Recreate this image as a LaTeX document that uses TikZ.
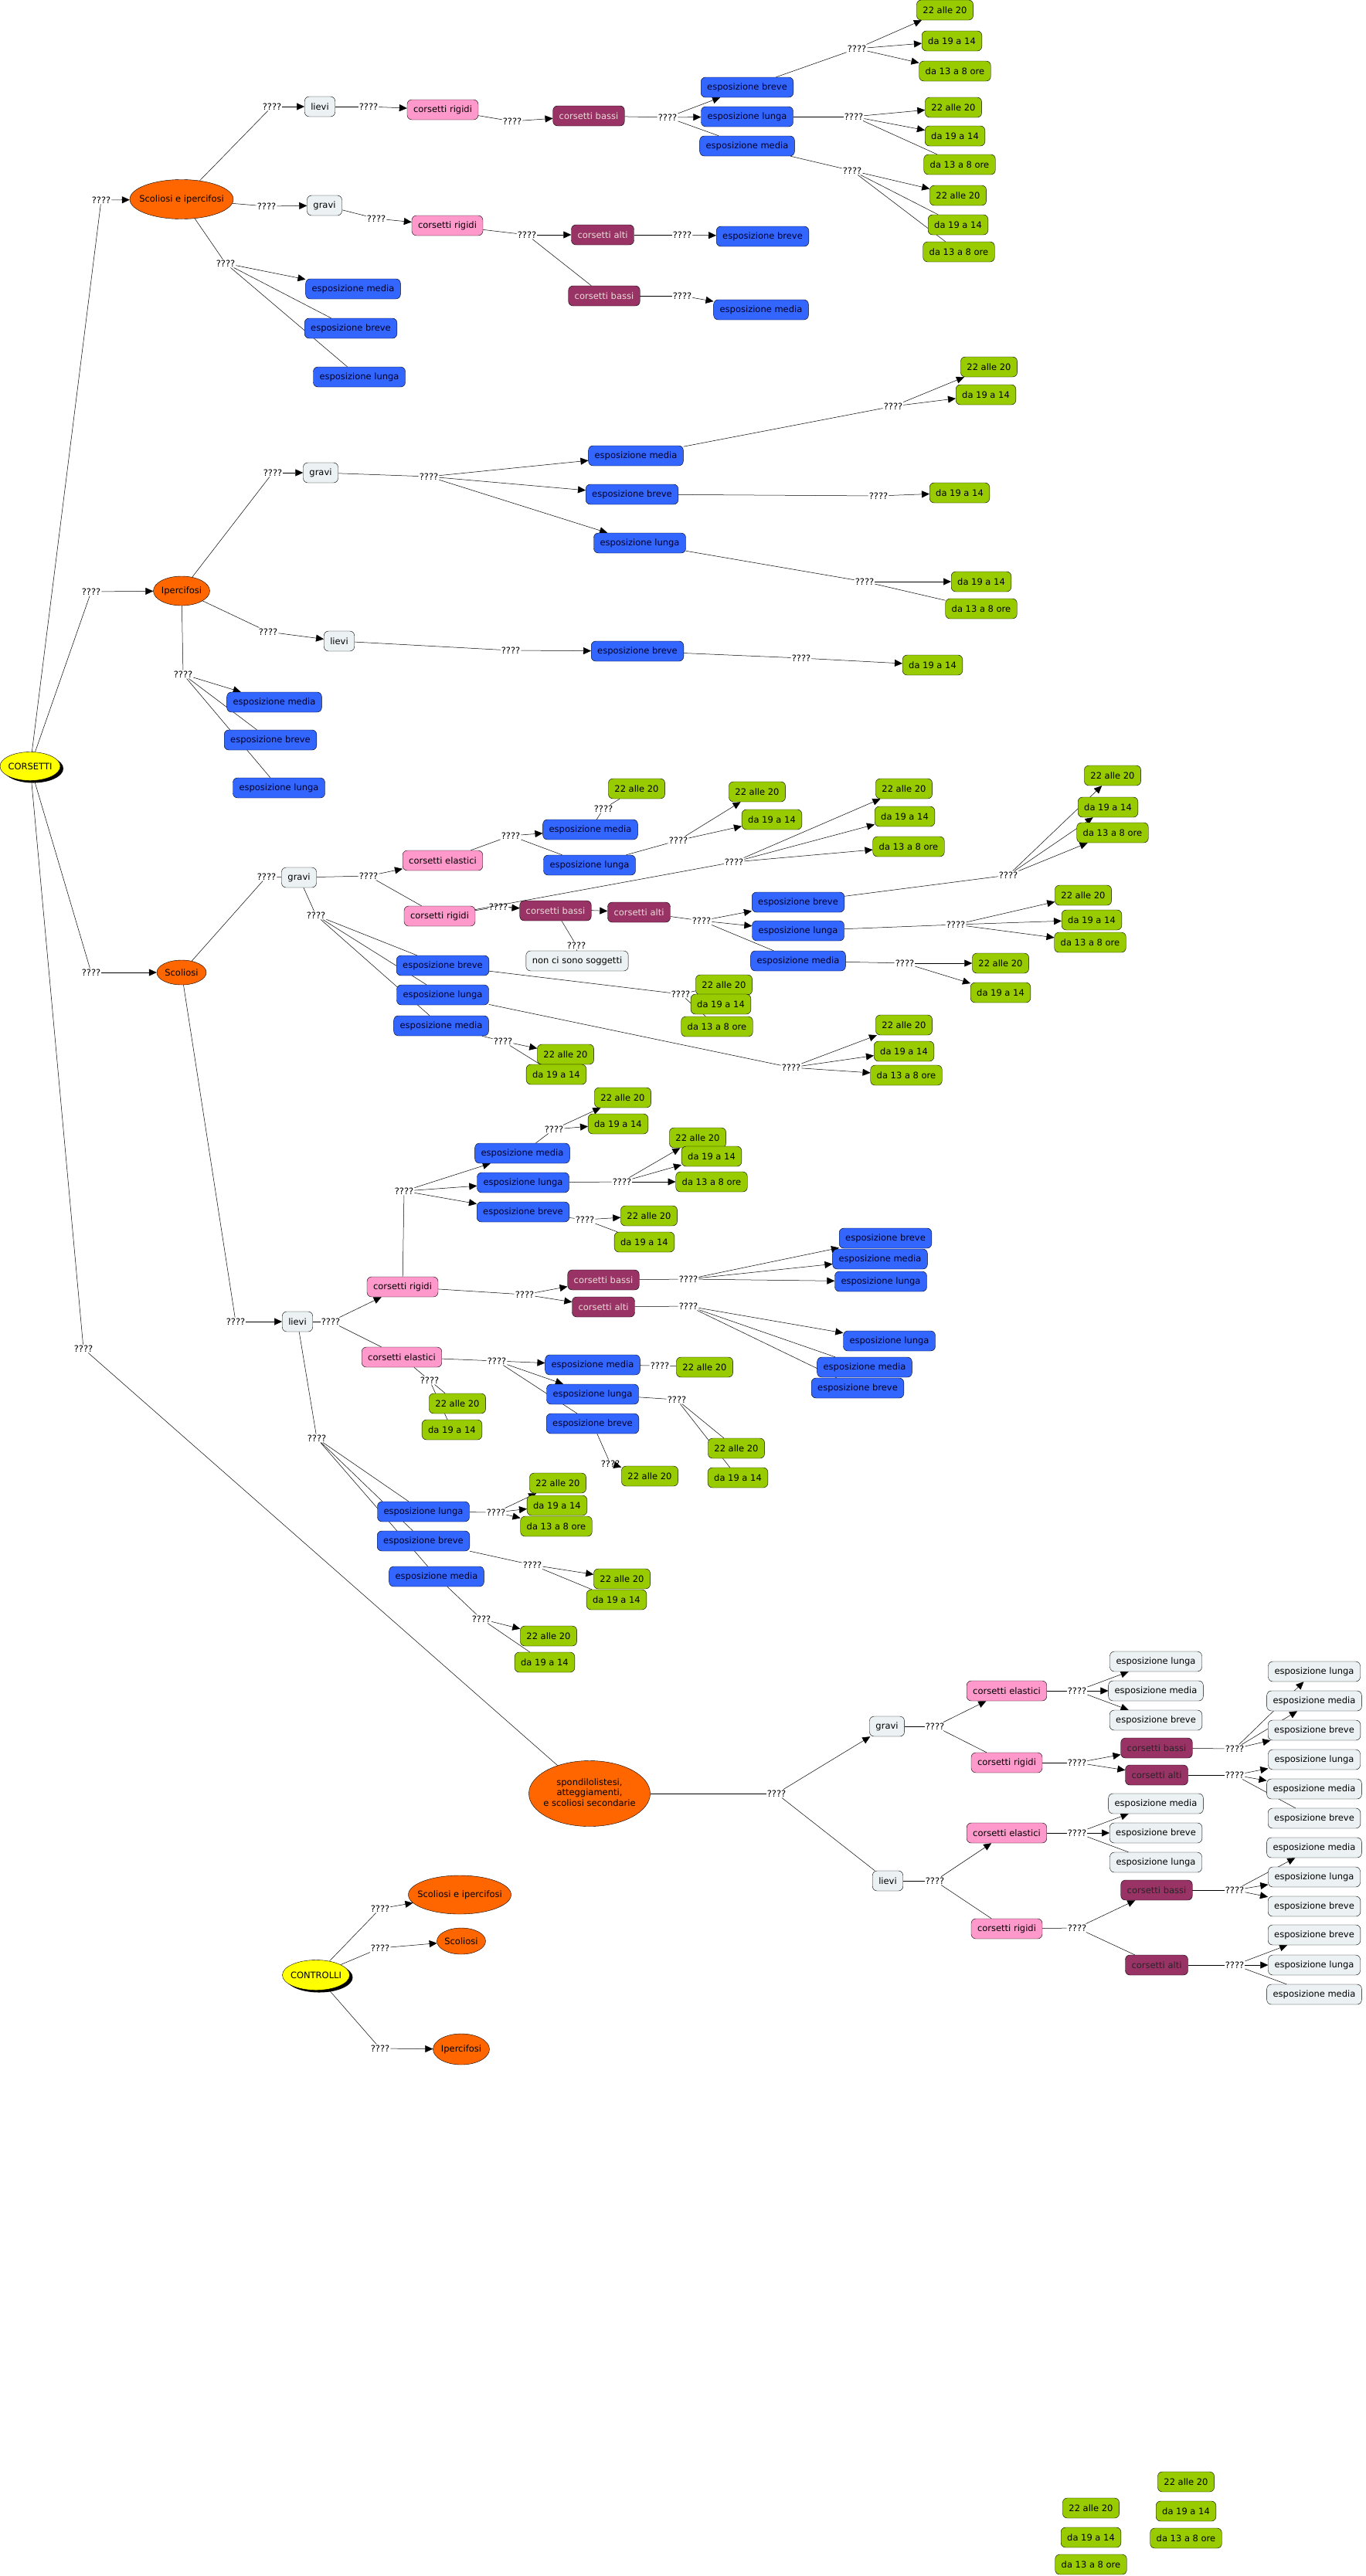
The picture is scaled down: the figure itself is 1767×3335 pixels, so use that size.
\documentclass[tikz,border=0pt]{standalone}
\usepackage{fontspec}
\setmainfont{DejaVu Sans}
\usepackage{tikz}
\usetikzlibrary{arrows.meta,shapes.geometric,shadows,backgrounds}
\definecolor{cmyellow}{RGB}{255,255,0}
\definecolor{cmorange}{RGB}{255,102,0}
\definecolor{cmlight}{RGB}{236,242,244}
\definecolor{cmblue}{RGB}{51,102,255}
\definecolor{cmgreen}{RGB}{153,204,0}
\definecolor{cmpink}{RGB}{255,153,204}
\definecolor{cmwine}{RGB}{153,51,102}
\definecolor{cmnavy}{RGB}{0,0,40}
\definecolor{cmcream}{RGB}{235,220,215}
\newcommand{\cmfree}[1]{\makebox[0pt]{#1}}
\newcommand{\cmq}{????}
\newcommand{\cmtA}{22 alle 20}
\newcommand{\cmtB}{da 19 a 14}
\newcommand{\cmtC}{da 13 a 8 ore}
\tikzset{
  cmbox/.style={draw=black, rounded corners=6pt, minimum height=26pt, inner xsep=8pt, inner ysep=1pt},
  cmboxlight/.style={cmbox, fill=cmlight},
  cmboxblue/.style={cmbox, fill=cmblue, text=cmnavy},
  cmboxgreen/.style={cmbox, fill=cmgreen},
  cmboxpink/.style={cmbox, fill=cmpink},
  cmboxwine/.style={cmbox, fill=cmwine, text=cmcream},
  cmboxwinedark/.style={cmbox, fill=cmwine, text=black!85},
  cmell/.style={ellipse, draw=black, fill=cmorange, inner sep=0pt},
  cmroot/.style={ellipse, draw=black, fill=cmyellow, inner sep=0pt, drop shadow={shadow xshift=4pt, shadow yshift=-3pt, fill=black, opacity=1}},
  cmlink/.style={inner sep=1pt},
  cmline/.style={draw=black, line width=.5pt},
  cmarr/.style={cmline, -{Triangle[length=10pt,width=9pt]}}
}

\begin{document}
\begin{tikzpicture}[x=1pt, y=-1pt, font=\fontsize{11.5}{13.5}\selectfont]
  \useasboundingbox (0,0) rectangle (1767,3335);

  \node[cmroot, minimum width=78pt, minimum height=37pt] (corsetti) at (39,992) {\cmfree{CORSETTI}};
  \node[cmell, minimum width=134pt, minimum height=51pt] (sei) at (235,258) {\cmfree{Scoliosi e ipercifosi}};
  \node[cmell, minimum width=73pt, minimum height=38pt] (iper) at (235,765) {\cmfree{Ipercifosi}};
  \node[cmell, minimum width=64pt, minimum height=32pt] (scol) at (235,1259) {\cmfree{Scoliosi}};
  \node[cmell, minimum width=157pt, minimum height=85pt] (spondi) at (763,2322) {\cmfree{\begin{tabular}{@{}c@{}}spondilolistesi,\\atteggiamenti,\\e scoliosi secondarie\end{tabular}}};
  \node[cmlink] (l1) at (131,259) {\cmq};
  \node[cmlink] (l2) at (118,766) {\cmq};
  \node[cmlink] (l3) at (118,1259) {\cmq};
  \node[cmlink] (l4) at (108,1746) {\cmq};

  \node[cmlink] (a1) at (352,138) {\cmq};
  \node[cmboxlight] (aLievi) at (414,138) {lievi};
  \node[cmlink] (a2) at (477,138) {\cmq};
  \node[cmboxpink] (aRig) at (573,142) {corsetti rigidi};
  \node[cmlink] (a3) at (663,157) {\cmq};
  \node[cmboxwine] (aBassi) at (762,150) {corsetti bassi};
  \node[cmlink] (a4) at (864,152) {\cmq};
  \node[cmboxblue] (aBre) at (967,113) {esposizione breve};
  \node[cmboxblue] (aLun) at (967,151) {esposizione lunga};
  \node[cmboxblue] (aMed) at (967,189) {esposizione media};
  \node[cmlink] (a5) at (1109,63) {\cmq};
  \node[cmboxgreen] (aBre1) at (1223,13) {\cmtA};
  \node[cmboxgreen] (aBre2) at (1232,53) {\cmtB};
  \node[cmboxgreen] (aBre3) at (1236,92) {\cmtC};
  \node[cmlink] (a6) at (1105,151) {\cmq};
  \node[cmboxgreen] (aLun1) at (1234,139) {\cmtA};
  \node[cmboxgreen] (aLun2) at (1236,176) {\cmtB};
  \node[cmboxgreen] (aLun3) at (1242,213) {\cmtC};
  \node[cmlink] (a7) at (1103,221) {\cmq};
  \node[cmboxgreen] (aMed1) at (1240,253) {\cmtA};
  \node[cmboxgreen] (aMed2) at (1240,291) {\cmtB};
  \node[cmboxgreen] (aMed3) at (1241,326) {\cmtC};
  \node[cmlink] (a8) at (345,267) {\cmq};
  \node[cmboxlight] (aGravi) at (420,266) {gravi};
  \node[cmlink] (a9) at (487,283) {\cmq};
  \node[cmboxpink] (aRigG) at (579,292) {corsetti rigidi};
  \node[cmlink] (a10) at (682,304) {\cmq};
  \node[cmboxwine] (aAlti) at (780,304) {corsetti alti};
  \node[cmboxwine] (aBassiG) at (782,383) {corsetti bassi};
  \node[cmlink] (a11) at (883,304) {\cmq};
  \node[cmboxblue] (aAltiBre) at (987,306) {esposizione breve};
  \node[cmlink] (a12) at (883,383) {\cmq};
  \node[cmboxblue] (aBassiMed) at (985,401) {esposizione media};
  \node[cmlink] (a13) at (292,341) {\cmq};
  \node[cmboxblue] (aEMed) at (457,374) {esposizione media};
  \node[cmboxblue] (aEBre) at (454,425) {esposizione breve};
  \node[cmboxblue] (aELun) at (465,488) {esposizione lunga};

  \node[cmlink] (b1) at (353,612) {\cmq};
  \node[cmboxlight] (bGravi) at (415,612) {gravi};
  \node[cmlink] (b2) at (555,617) {\cmq};
  \node[cmboxblue] (bMed) at (823,590) {esposizione media};
  \node[cmboxblue] (bBre) at (818,640) {esposizione breve};
  \node[cmboxblue] (bLun) at (828,703) {esposizione lunga};
  \node[cmlink] (b3) at (1156,526) {\cmq};
  \node[cmboxgreen] (bMed1) at (1280,475) {\cmtA};
  \node[cmboxgreen] (bMed2) at (1276,511) {\cmtB};
  \node[cmlink] (b4) at (1137,642) {\cmq};
  \node[cmboxgreen] (bBre2) at (1242,638) {\cmtB};
  \node[cmlink] (b5) at (1119,753) {\cmq};
  \node[cmboxgreen] (bLun2) at (1270,753) {\cmtB};
  \node[cmboxgreen] (bLun3) at (1270,788) {\cmtC};
  \node[cmlink] (b6) at (347,818) {\cmq};
  \node[cmboxlight] (bLievi) at (439,830) {lievi};
  \node[cmlink] (b7) at (661,842) {\cmq};
  \node[cmboxblue] (bLBre) at (825,843) {esposizione breve};
  \node[cmlink] (b8) at (1037,852) {\cmq};
  \node[cmboxgreen] (bLBre2) at (1207,861) {\cmtB};
  \node[cmlink] (b9) at (237,873) {\cmq};
  \node[cmboxblue] (bEMed) at (355,909) {esposizione media};
  \node[cmboxblue] (bEBre) at (350,958) {esposizione breve};
  \node[cmboxblue] (bELun) at (361,1020) {esposizione lunga};

  \node[cmlink] (c1) at (345,1135) {\cmq};
  \node[cmboxlight] (cGravi) at (387,1136) {gravi};
  \node[cmlink] (c2) at (477,1134) {\cmq};
  \node[cmboxpink] (cEla) at (573,1114) {corsetti elastici};
  \node[cmboxpink] (cRig) at (569,1186) {corsetti rigidi};
  \node[cmlink] (c3) at (409,1185) {\cmq};
  \node[cmboxblue] (cEBre) at (573,1250) {esposizione breve};
  \node[cmboxblue] (cELun) at (573,1288) {esposizione lunga};
  \node[cmboxblue] (cEMed) at (571,1328) {esposizione media};
  \node[cmlink] (c4) at (661,1082) {\cmq};
  \node[cmboxblue] (cElaMed) at (764,1074) {esposizione media};
  \node[cmboxblue] (cElaLun) at (763,1120) {esposizione lunga};
  \node[cmlink] (c5) at (781,1047) {\cmq};
  \node[cmboxgreen] (cElaMed1) at (824,1021) {\cmtA};
  \node[cmlink] (c6) at (878,1088) {\cmq};
  \node[cmboxgreen] (cElaLun1) at (980,1025) {\cmtA};
  \node[cmboxgreen] (cElaLun2) at (999,1061) {\cmtB};
  \node[cmlink] (c7) at (645,1174) {\cmq};
  \node[cmboxwine] (cBassi) at (719,1179) {corsetti bassi};
  \node[cmboxwine] (cAlti) at (827,1181) {corsetti alti};
  \node[cmlink] (c8) at (950,1116) {\cmq};
  \node[cmboxgreen] (cRig1) at (1170,1021) {\cmtA};
  \node[cmboxgreen] (cRig2) at (1171,1057) {\cmtB};
  \node[cmboxgreen] (cRig3) at (1176,1096) {\cmtC};
  \node[cmlink] (c9) at (746,1224) {\cmq};
  \node[cmboxlight] (cNon) at (747,1244) {non ci sono soggetti};
  \node[cmlink] (c10) at (908,1192) {\cmq};
  \node[cmboxblue] (cAltiBre) at (1033,1168) {esposizione breve};
  \node[cmboxblue] (cAltiLun) at (1033,1205) {esposizione lunga};
  \node[cmboxblue] (cAltiMed) at (1033,1244) {esposizione media};
  \node[cmlink] (c11) at (1305,1133) {\cmq};
  \node[cmboxgreen] (cAB1) at (1440,1004) {\cmtA};
  \node[cmboxgreen] (cAB2) at (1434,1045) {\cmtB};
  \node[cmboxgreen] (cAB3) at (1440,1078) {\cmtC};
  \node[cmlink] (c12) at (1237,1197) {\cmq};
  \node[cmboxgreen] (cAL1) at (1402,1159) {\cmtA};
  \node[cmboxgreen] (cAL2) at (1413,1191) {\cmtB};
  \node[cmboxgreen] (cAL3) at (1411,1220) {\cmtC};
  \node[cmlink] (c13) at (1171,1247) {\cmq};
  \node[cmboxgreen] (cAM1) at (1295,1247) {\cmtA};
  \node[cmboxgreen] (cAM2) at (1295,1285) {\cmtB};
  \node[cmlink] (c14) at (881,1287) {\cmq};
  \node[cmboxgreen] (cEB1) at (937,1275) {\cmtA};
  \node[cmboxgreen] (cEB2) at (933,1300) {\cmtB};
  \node[cmboxgreen] (cEB3) at (928,1329) {\cmtC};
  \node[cmlink] (c15) at (1024,1382) {\cmq};
  \node[cmboxgreen] (cEL1) at (1170,1327) {\cmtA};
  \node[cmboxgreen] (cEL2) at (1170,1361) {\cmtB};
  \node[cmboxgreen] (cEL3) at (1173,1392) {\cmtC};
  \node[cmlink] (c16) at (651,1348) {\cmq};
  \node[cmboxgreen] (cEM1) at (732,1365) {\cmtA};
  \node[cmboxgreen] (cEM2) at (720,1391) {\cmtB};

  \node[cmlink] (d0) at (305,1711) {\cmq};
  \node[cmboxlight] (dLievi) at (385,1711) {lievi};
  \node[cmlink] (d1) at (428,1711) {\cmq};
  \node[cmboxpink] (dRig) at (521,1666) {corsetti rigidi};
  \node[cmboxpink] (dEla) at (520,1757) {corsetti elastici};
  \node[cmlink] (d2) at (523,1542) {\cmq};
  \node[cmboxblue] (dMed) at (676,1493) {esposizione media};
  \node[cmboxblue] (dLun) at (677,1531) {esposizione lunga};
  \node[cmboxblue] (dBre) at (677,1569) {esposizione breve};
  \node[cmlink] (d3) at (717,1462) {\cmq};
  \node[cmboxgreen] (dMed1) at (806,1421) {\cmtA};
  \node[cmboxgreen] (dMed2) at (800,1455) {\cmtB};
  \node[cmlink] (d4) at (805,1530) {\cmq};
  \node[cmboxgreen] (dLun1) at (903,1473) {\cmtA};
  \node[cmboxgreen] (dLun2) at (921,1497) {\cmtB};
  \node[cmboxgreen] (dLun3) at (921,1530) {\cmtC};
  \node[cmlink] (d5) at (757,1579) {\cmq};
  \node[cmboxgreen] (dBre1) at (840,1574) {\cmtA};
  \node[cmboxgreen] (dBre2) at (834,1608) {\cmtB};
  \node[cmlink] (d6) at (679,1676) {\cmq};
  \node[cmboxwine] (dBassi) at (781,1657) {corsetti bassi};
  \node[cmboxwine] (dAlti) at (781,1692) {corsetti alti};
  \node[cmlink] (d7) at (891,1656) {\cmq};
  \node[cmboxblue] (dBaBre) at (1146,1603) {esposizione breve};
  \node[cmboxblue] (dBaMed) at (1139,1630) {esposizione media};
  \node[cmboxblue] (dBaLun) at (1140,1659) {esposizione lunga};
  \node[cmlink] (d8) at (891,1691) {\cmq};
  \node[cmboxblue] (dAlLun) at (1151,1736) {esposizione lunga};
  \node[cmboxblue] (dAlMed) at (1119,1770) {esposizione media};
  \node[cmboxblue] (dAlBre) at (1110,1797) {esposizione breve};
  \node[cmlink] (d9) at (643,1762) {\cmq};
  \node[cmboxblue] (dEMed) at (767,1767) {esposizione media};
  \node[cmboxblue] (dELun) at (767,1805) {esposizione lunga};
  \node[cmboxblue] (dEBre) at (767,1843) {esposizione breve};
  \node[cmlink] (d10) at (854,1768) {\cmq};
  \node[cmboxgreen] (dEMed1) at (912,1770) {\cmtA};
  \node[cmlink] (d11) at (876,1812) {\cmq};
  \node[cmboxgreen] (dELun1) at (953,1875) {\cmtA};
  \node[cmboxgreen] (dELun2) at (955,1913) {\cmtB};
  \node[cmlink] (d12) at (556,1787) {\cmq};
  \node[cmboxgreen] (dEla1) at (592,1817) {\cmtA};
  \node[cmboxgreen] (dEla2) at (585,1851) {\cmtB};
  \node[cmlink] (d13) at (790,1895) {\cmq};
  \node[cmboxgreen] (dEBre1) at (841,1911) {\cmtA};
  \node[cmlink] (d14) at (410,1862) {\cmq};
  \node[cmboxblue] (dXLun) at (548,1957) {esposizione lunga};
  \node[cmboxblue] (dXBre) at (548,1995) {esposizione breve};
  \node[cmboxblue] (dXMed) at (565,2041) {esposizione media};
  \node[cmlink] (d15) at (642,1958) {\cmq};
  \node[cmboxgreen] (dXLun1) at (722,1920) {\cmtA};
  \node[cmboxgreen] (dXLun2) at (721,1949) {\cmtB};
  \node[cmboxgreen] (dXLun3) at (720,1976) {\cmtC};
  \node[cmlink] (d16) at (689,2026) {\cmq};
  \node[cmboxgreen] (dXBre1) at (805,2044) {\cmtA};
  \node[cmboxgreen] (dXBre2) at (798,2071) {\cmtB};
  \node[cmlink] (d17) at (623,2096) {\cmq};
  \node[cmboxgreen] (dXMed1) at (710,2118) {\cmtA};
  \node[cmboxgreen] (dXMed2) at (705,2152) {\cmtB};

  \node[cmlink] (e0) at (1005,2322) {\cmq};
  \node[cmboxlight] (eGravi) at (1148,2235) {gravi};
  \node[cmboxlight] (eLievi) at (1149,2435) {lievi};
  \node[cmlink] (e1) at (1210,2235) {\cmq};
  \node[cmboxpink] (eGEla) at (1303,2189) {corsetti elastici};
  \node[cmboxpink] (eGRig) at (1303,2282) {corsetti rigidi};
  \node[cmlink] (e2) at (1394,2189) {\cmq};
  \node[cmboxlight] (eGE1) at (1496,2151) {esposizione lunga};
  \node[cmboxlight] (eGE2) at (1496,2189) {esposizione media};
  \node[cmboxlight] (eGE3) at (1496,2227) {esposizione breve};
  \node[cmlink] (e3) at (1394,2282) {\cmq};
  \node[cmboxwinedark] (eGBassi) at (1497,2263) {corsetti bassi};
  \node[cmboxwinedark] (eGAlti) at (1497,2298) {corsetti alti};
  \node[cmlink] (e4) at (1598,2264) {\cmq};
  \node[cmboxlight] (eGB1) at (1701,2164) {esposizione lunga};
  \node[cmboxlight] (eGB2) at (1701,2202) {esposizione media};
  \node[cmboxlight] (eGB3) at (1701,2240) {esposizione breve};
  \node[cmlink] (e5) at (1598,2298) {\cmq};
  \node[cmboxlight] (eGA1) at (1701,2278) {esposizione lunga};
  \node[cmboxlight] (eGA2) at (1701,2316) {esposizione media};
  \node[cmboxlight] (eGA3) at (1701,2354) {esposizione breve};
  \node[cmlink] (e6) at (1210,2435) {\cmq};
  \node[cmboxpink] (eLEla) at (1303,2373) {corsetti elastici};
  \node[cmboxpink] (eLRig) at (1303,2497) {corsetti rigidi};
  \node[cmlink] (e7) at (1394,2373) {\cmq};
  \node[cmboxlight] (eLE1) at (1496,2335) {esposizione media};
  \node[cmboxlight] (eLE2) at (1496,2373) {esposizione breve};
  \node[cmboxlight] (eLE3) at (1496,2411) {esposizione lunga};
  \node[cmlink] (e8) at (1394,2496) {\cmq};
  \node[cmboxwinedark] (eLBassi) at (1497,2447) {corsetti bassi};
  \node[cmboxwinedark] (eLAlti) at (1497,2544) {corsetti alti};
  \node[cmlink] (e9) at (1598,2447) {\cmq};
  \node[cmboxlight] (eLB1) at (1701,2392) {esposizione media};
  \node[cmboxlight] (eLB2) at (1701,2430) {esposizione lunga};
  \node[cmboxlight] (eLB3) at (1701,2468) {esposizione breve};
  \node[cmlink] (e10) at (1598,2544) {\cmq};
  \node[cmboxlight] (eLA1) at (1701,2505) {esposizione breve};
  \node[cmboxlight] (eLA2) at (1701,2544) {esposizione lunga};
  \node[cmboxlight] (eLA3) at (1701,2582) {esposizione media};

  \node[cmroot, minimum width=87pt, minimum height=39pt] (controlli) at (409,2557) {\cmfree{CONTROLLI}};
  \node[cmlink] (f1) at (492,2471) {\cmq};
  \node[cmlink] (f2) at (492,2522) {\cmq};
  \node[cmlink] (f3) at (492,2652) {\cmq};
  \node[cmell, minimum width=133pt, minimum height=50pt] (fSei) at (595,2453) {\cmfree{Scoliosi e ipercifosi}};
  \node[cmell, minimum width=63pt, minimum height=34pt] (fScol) at (597,2513) {\cmfree{Scoliosi}};
  \node[cmell, minimum width=73pt, minimum height=40pt] (fIper) at (597,2653) {\cmfree{Ipercifosi}};

  \node[cmboxgreen] (gA1) at (1535,3213) {\cmtA};
  \node[cmboxgreen] (gB1) at (1535,3251) {\cmtB};
  \node[cmboxgreen] (gC1) at (1535,3286) {\cmtC};
  \node[cmboxgreen] (gA2) at (1412,3247) {\cmtA};
  \node[cmboxgreen] (gB2) at (1412,3285) {\cmtB};
  \node[cmboxgreen] (gC2) at (1412,3320) {\cmtC};

  \begin{pgfonlayer}{background}
    \fill[white] (0,0) rectangle (1767,3335);
    \foreach \l in {l1,l2,l3,l4} \draw[cmline] (corsetti) -- (\l);
    \draw[cmarr] (l1) -- (sei);
    \draw[cmarr] (l2) -- (iper);
    \draw[cmarr] (l3) -- (scol);
    \draw[cmline] (l4) -- (spondi);

    \draw[cmline] (sei) -- (a1); \draw[cmarr] (a1) -- (aLievi);
    \draw[cmline] (aLievi) -- (a2); \draw[cmarr] (a2) -- (aRig);
    \draw[cmline] (aRig) -- (a3); \draw[cmarr] (a3) -- (aBassi);
    \draw[cmline] (aBassi) -- (a4); \draw[cmarr] (a4) -- (aBre); \draw[cmarr] (a4) -- (aLun); \draw[cmline] (a4) -- (aMed);
    \draw[cmline] (aBre) -- (a5);
    \foreach \t in {aBre1,aBre2,aBre3} \draw[cmarr] (a5) -- (\t);
    \draw[cmline] (aLun) -- (a6); \draw[cmarr] (a6) -- (aLun1); \draw[cmarr] (a6) -- (aLun2); \draw[cmline] (a6) -- (aLun3);
    \draw[cmline] (aMed) -- (a7); \draw[cmarr] (a7) -- (aMed1); \draw[cmline] (a7) -- (aMed2); \draw[cmline] (a7) -- (aMed3);
    \draw[cmline] (sei) -- (a8); \draw[cmarr] (a8) -- (aGravi);
    \draw[cmline] (aGravi) -- (a9); \draw[cmarr] (a9) -- (aRigG);
    \draw[cmline] (aRigG) -- (a10); \draw[cmarr] (a10) -- (aAlti); \draw[cmline] (a10) -- (aBassiG);
    \draw[cmline] (aAlti) -- (a11); \draw[cmarr] (a11) -- (aAltiBre);
    \draw[cmline] (aBassiG) -- (a12); \draw[cmarr] (a12) -- (aBassiMed);
    \draw[cmline] (sei) -- (a13); \draw[cmarr] (a13) -- (aEMed); \draw[cmline] (a13) -- (aEBre); \draw[cmline] (a13) -- (aELun);

    \draw[cmline] (iper) -- (b1); \draw[cmarr] (b1) -- (bGravi);
    \draw[cmline] (bGravi) -- (b2);
    \foreach \t in {bMed,bBre,bLun} \draw[cmarr] (b2) -- (\t);
    \draw[cmline] (bMed) -- (b3); \draw[cmarr] (b3) -- (bMed1); \draw[cmarr] (b3) -- (bMed2);
    \draw[cmline] (bBre) -- (b4); \draw[cmarr] (b4) -- (bBre2);
    \draw[cmline] (bLun) -- (b5); \draw[cmarr] (b5) -- (bLun2); \draw[cmline] (b5) -- (bLun3);
    \draw[cmline] (iper) -- (b6); \draw[cmarr] (b6) -- (bLievi);
    \draw[cmline] (bLievi) -- (b7); \draw[cmarr] (b7) -- (bLBre);
    \draw[cmline] (bLBre) -- (b8); \draw[cmarr] (b8) -- (bLBre2);
    \draw[cmline] (iper) -- (b9); \draw[cmarr] (b9) -- (bEMed); \draw[cmline] (b9) -- (bEBre); \draw[cmline] (b9) -- (bELun);

    \draw[cmline] (scol) -- (c1); \draw[cmline] (c1) -- (cGravi);
    \draw[cmline] (cGravi) -- (c2); \draw[cmarr] (c2) -- (cEla); \draw[cmline] (c2) -- (cRig);
    \draw[cmline] (cGravi) -- (c3);
    \foreach \t in {cEBre,cELun,cEMed} \draw[cmline] (c3) -- (\t);
    \draw[cmline] (cEla) -- (c4); \draw[cmarr] (c4) -- (cElaMed); \draw[cmline] (c4) -- (cElaLun);
    \draw[cmline] (cElaMed) -- (c5); \draw[cmline] (c5) -- (cElaMed1);
    \draw[cmline] (cElaLun) -- (c6); \draw[cmarr] (c6) -- (cElaLun1); \draw[cmarr] (c6) -- (cElaLun2);
    \draw[cmline] (cRig) -- (c7); \draw[cmarr] (c7) -- (cBassi); \draw[cmarr] (c7) -- (cAlti);
    \draw[cmline] (cRig) -- (c8);
    \foreach \t in {cRig1,cRig2,cRig3} \draw[cmarr] (c8) -- (\t);
    \draw[cmline] (cBassi) -- (c9); \draw[cmline] (c9) -- (cNon);
    \draw[cmline] (cAlti) -- (c10); \draw[cmarr] (c10) -- (cAltiBre); \draw[cmarr] (c10) -- (cAltiLun); \draw[cmline] (c10) -- (cAltiMed);
    \draw[cmline] (cAltiBre) -- (c11);
    \foreach \t in {cAB1,cAB2,cAB3} \draw[cmarr] (c11) -- (\t);
    \draw[cmline] (cAltiLun) -- (c12);
    \foreach \t in {cAL1,cAL2,cAL3} \draw[cmarr] (c12) -- (\t);
    \draw[cmline] (cAltiMed) -- (c13); \draw[cmarr] (c13) -- (cAM1); \draw[cmarr] (c13) -- (cAM2);
    \draw[cmline] (cEBre) -- (c14);
    \foreach \t in {cEB1,cEB2,cEB3} \draw[cmline] (c14) -- (\t);
    \draw[cmline] (cELun) -- (c15);
    \foreach \t in {cEL1,cEL2,cEL3} \draw[cmarr] (c15) -- (\t);
    \draw[cmline] (cEMed) -- (c16); \draw[cmarr] (c16) -- (cEM1); \draw[cmline] (c16) -- (cEM2);

    \draw[cmline] (scol) -- (d0); \draw[cmarr] (d0) -- (dLievi);
    \draw[cmline] (dLievi) -- (d1); \draw[cmarr] (d1) -- (dRig); \draw[cmline] (d1) -- (dEla);
    \draw[cmline] (dRig) -- (d2);
    \foreach \t in {dMed,dLun,dBre} \draw[cmarr] (d2) -- (\t);
    \draw[cmline] (dMed) -- (d3); \draw[cmarr] (d3) -- (dMed1); \draw[cmarr] (d3) -- (dMed2);
    \draw[cmline] (dLun) -- (d4);
    \foreach \t in {dLun1,dLun2,dLun3} \draw[cmarr] (d4) -- (\t);
    \draw[cmline] (dBre) -- (d5); \draw[cmarr] (d5) -- (dBre1); \draw[cmline] (d5) -- (dBre2);
    \draw[cmline] (dRig) -- (d6); \draw[cmarr] (d6) -- (dBassi); \draw[cmarr] (d6) -- (dAlti);
    \draw[cmline] (dBassi) -- (d7);
    \foreach \t in {dBaBre,dBaMed,dBaLun} \draw[cmarr] (d7) -- (\t);
    \draw[cmline] (dAlti) -- (d8); \draw[cmarr] (d8) -- (dAlLun); \draw[cmline] (d8) -- (dAlMed); \draw[cmline] (d8) -- (dAlBre);
    \draw[cmline] (dEla) -- (d9); \draw[cmarr] (d9) -- (dEMed); \draw[cmarr] (d9) -- (dELun); \draw[cmline] (d9) -- (dEBre);
    \draw[cmline] (dEMed) -- (d10); \draw[cmline] (d10) -- (dEMed1);
    \draw[cmline] (dELun) -- (d11); \draw[cmline] (d11) -- (dELun1); \draw[cmline] (d11) -- (dELun2);
    \draw[cmline] (dEla) -- (d12); \draw[cmline] (d12) -- (dEla1); \draw[cmline] (d12) -- (dEla2);
    \draw[cmline] (dEBre) -- (d13); \draw[cmarr] (d13) -- (dEBre1);
    \draw[cmline] (dLievi) -- (d14);
    \foreach \t in {dXLun,dXBre,dXMed} \draw[cmline] (d14) -- (\t);
    \draw[cmline] (dXLun) -- (d15);
    \foreach \t in {dXLun1,dXLun2,dXLun3} \draw[cmarr] (d15) -- (\t);
    \draw[cmline] (dXBre) -- (d16); \draw[cmarr] (d16) -- (dXBre1); \draw[cmline] (d16) -- (dXBre2);
    \draw[cmline] (dXMed) -- (d17); \draw[cmarr] (d17) -- (dXMed1); \draw[cmline] (d17) -- (dXMed2);

    \draw[cmline] (spondi) -- (e0); \draw[cmarr] (e0) -- (eGravi); \draw[cmline] (e0) -- (eLievi);
    \draw[cmline] (eGravi) -- (e1); \draw[cmarr] (e1) -- (eGEla); \draw[cmline] (e1) -- (eGRig);
    \draw[cmline] (eGEla) -- (e2);
    \foreach \t in {eGE1,eGE2,eGE3} \draw[cmarr] (e2) -- (\t);
    \draw[cmline] (eGRig) -- (e3); \draw[cmarr] (e3) -- (eGBassi); \draw[cmarr] (e3) -- (eGAlti);
    \draw[cmline] (eGBassi) -- (e4);
    \foreach \t in {eGB1,eGB2,eGB3} \draw[cmarr] (e4) -- (\t);
    \draw[cmline] (eGAlti) -- (e5); \draw[cmarr] (e5) -- (eGA1); \draw[cmarr] (e5) -- (eGA2); \draw[cmline] (e5) -- (eGA3);
    \draw[cmline] (eLievi) -- (e6); \draw[cmarr] (e6) -- (eLEla); \draw[cmline] (e6) -- (eLRig);
    \draw[cmline] (eLEla) -- (e7); \draw[cmarr] (e7) -- (eLE1); \draw[cmarr] (e7) -- (eLE2); \draw[cmline] (e7) -- (eLE3);
    \draw[cmline] (eLRig) -- (e8); \draw[cmarr] (e8) -- (eLBassi); \draw[cmline] (e8) -- (eLAlti);
    \draw[cmline] (eLBassi) -- (e9);
    \foreach \t in {eLB1,eLB2,eLB3} \draw[cmarr] (e9) -- (\t);
    \draw[cmline] (eLAlti) -- (e10); \draw[cmarr] (e10) -- (eLA1); \draw[cmarr] (e10) -- (eLA2); \draw[cmline] (e10) -- (eLA3);

    \draw[cmline] (controlli) -- (f1); \draw[cmarr] (f1) -- (fSei);
    \draw[cmline] (controlli) -- (f2); \draw[cmarr] (f2) -- (fScol);
    \draw[cmline] (controlli) -- (f3); \draw[cmarr] (f3) -- (fIper);
  \end{pgfonlayer}
\end{tikzpicture}
\end{document}
